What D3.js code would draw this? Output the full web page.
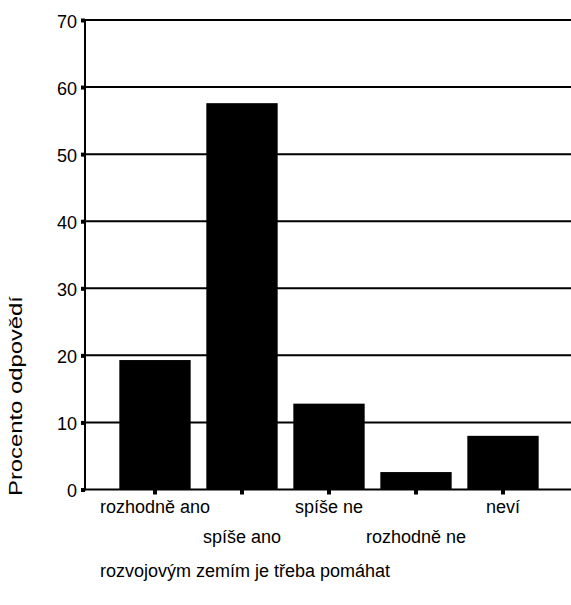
<!DOCTYPE html>
<html>
<head>
<meta charset="utf-8">
<script src="https://cdn.jsdelivr.net/npm/d3@7"></script>
<style>
  html, body { margin: 0; padding: 0; background: #fff; }
  svg { display: block; }
  text { font-family: "Liberation Sans", Arial, sans-serif; fill: #000; }
</style>
</head>
<body>
<script>
// Survey answers and their shares in percent
const categories = ["rozhodně ano", "spíše ano", "spíše ne", "rozhodně ne", "neví"];
const values = [19.3, 57.6, 12.8, 2.6, 8.0];
const yTicks = [0, 10, 20, 30, 40, 50, 60, 70];
const yTitle = "Procento odpovědí";
const chartTitle = "rozvojovým zemím je třeba pomáhat";

const W = 571, H = 605;
const svg = d3.select("body").append("svg").attr("width", W).attr("height", H);

const axisX = 85, plotRight = 571;
const y = d3.scaleLinear().domain([0, 70]).range([489.5, 20]);
const x = d3.scaleBand().domain(categories).range([111.5, 546.5])
  .paddingInner(0.18).paddingOuter(0.09);

// horizontal gridlines
svg.append("g").selectAll("line").data(yTicks.filter(t => t > 0)).join("line")
  .attr("x1", axisX).attr("x2", plotRight)
  .attr("y1", d => y(d)).attr("y2", d => y(d))
  .attr("stroke", "#000").attr("stroke-width", 2);

// bars
svg.append("g").selectAll("rect").data(values).join("rect")
  .attr("x", (d, i) => x(categories[i]))
  .attr("width", x.bandwidth())
  .attr("y", d => y(d))
  .attr("height", d => y(0) - y(d))
  .attr("fill", "#000");

// baseline
svg.append("line").attr("x1", axisX).attr("x2", plotRight)
  .attr("y1", y(0)).attr("y2", y(0))
  .attr("stroke", "#000").attr("stroke-width", 2);

// y axis
const yAxis = d3.axisLeft(y).tickValues(yTicks).tickSize(4).tickPadding(4);
const gy = svg.append("g").attr("transform", `translate(${axisX},0)`).call(yAxis);
gy.select(".domain").attr("stroke", "#000").attr("stroke-width", 2)
  .attr("d", `M0,${y(70)}V${y(0) + 1}`);
gy.selectAll(".tick line").attr("stroke", "#000").attr("stroke-width", 4);
gy.selectAll(".tick text").attr("font-size", 18)
  .attr("font-family", "Liberation Sans, Arial, sans-serif").attr("fill", "#000")
  .attr("dy", "0.4em");

// x axis ticks and staggered labels
const xAxis = d3.axisBottom(x).tickSize(5).tickSizeOuter(0).tickFormat("");
const gx = svg.append("g").attr("transform", `translate(0,${y(0)})`).call(xAxis);
gx.select(".domain").remove();
gx.selectAll(".tick line").attr("stroke", "#000").attr("stroke-width", 4);

svg.append("g").selectAll("text").data(categories).join("text")
  .attr("x", d => x(d) + x.bandwidth() / 2)
  .attr("y", (d, i) => i % 2 === 0 ? 513 : 543)
  .attr("text-anchor", "middle")
  .attr("font-size", 18)
  .text(d => d);

// y axis title, stretched along its length
svg.append("text")
  .attr("transform", "translate(22,396) rotate(-90)")
  .attr("text-anchor", "middle")
  .attr("font-size", 18)
  .attr("textLength", 200)
  .attr("lengthAdjust", "spacingAndGlyphs")
  .text(yTitle);

// chart title below
svg.append("text")
  .attr("x", 100).attr("y", 577)
  .attr("font-size", 18)
  .text(chartTitle);
</script>
</body>
</html>
